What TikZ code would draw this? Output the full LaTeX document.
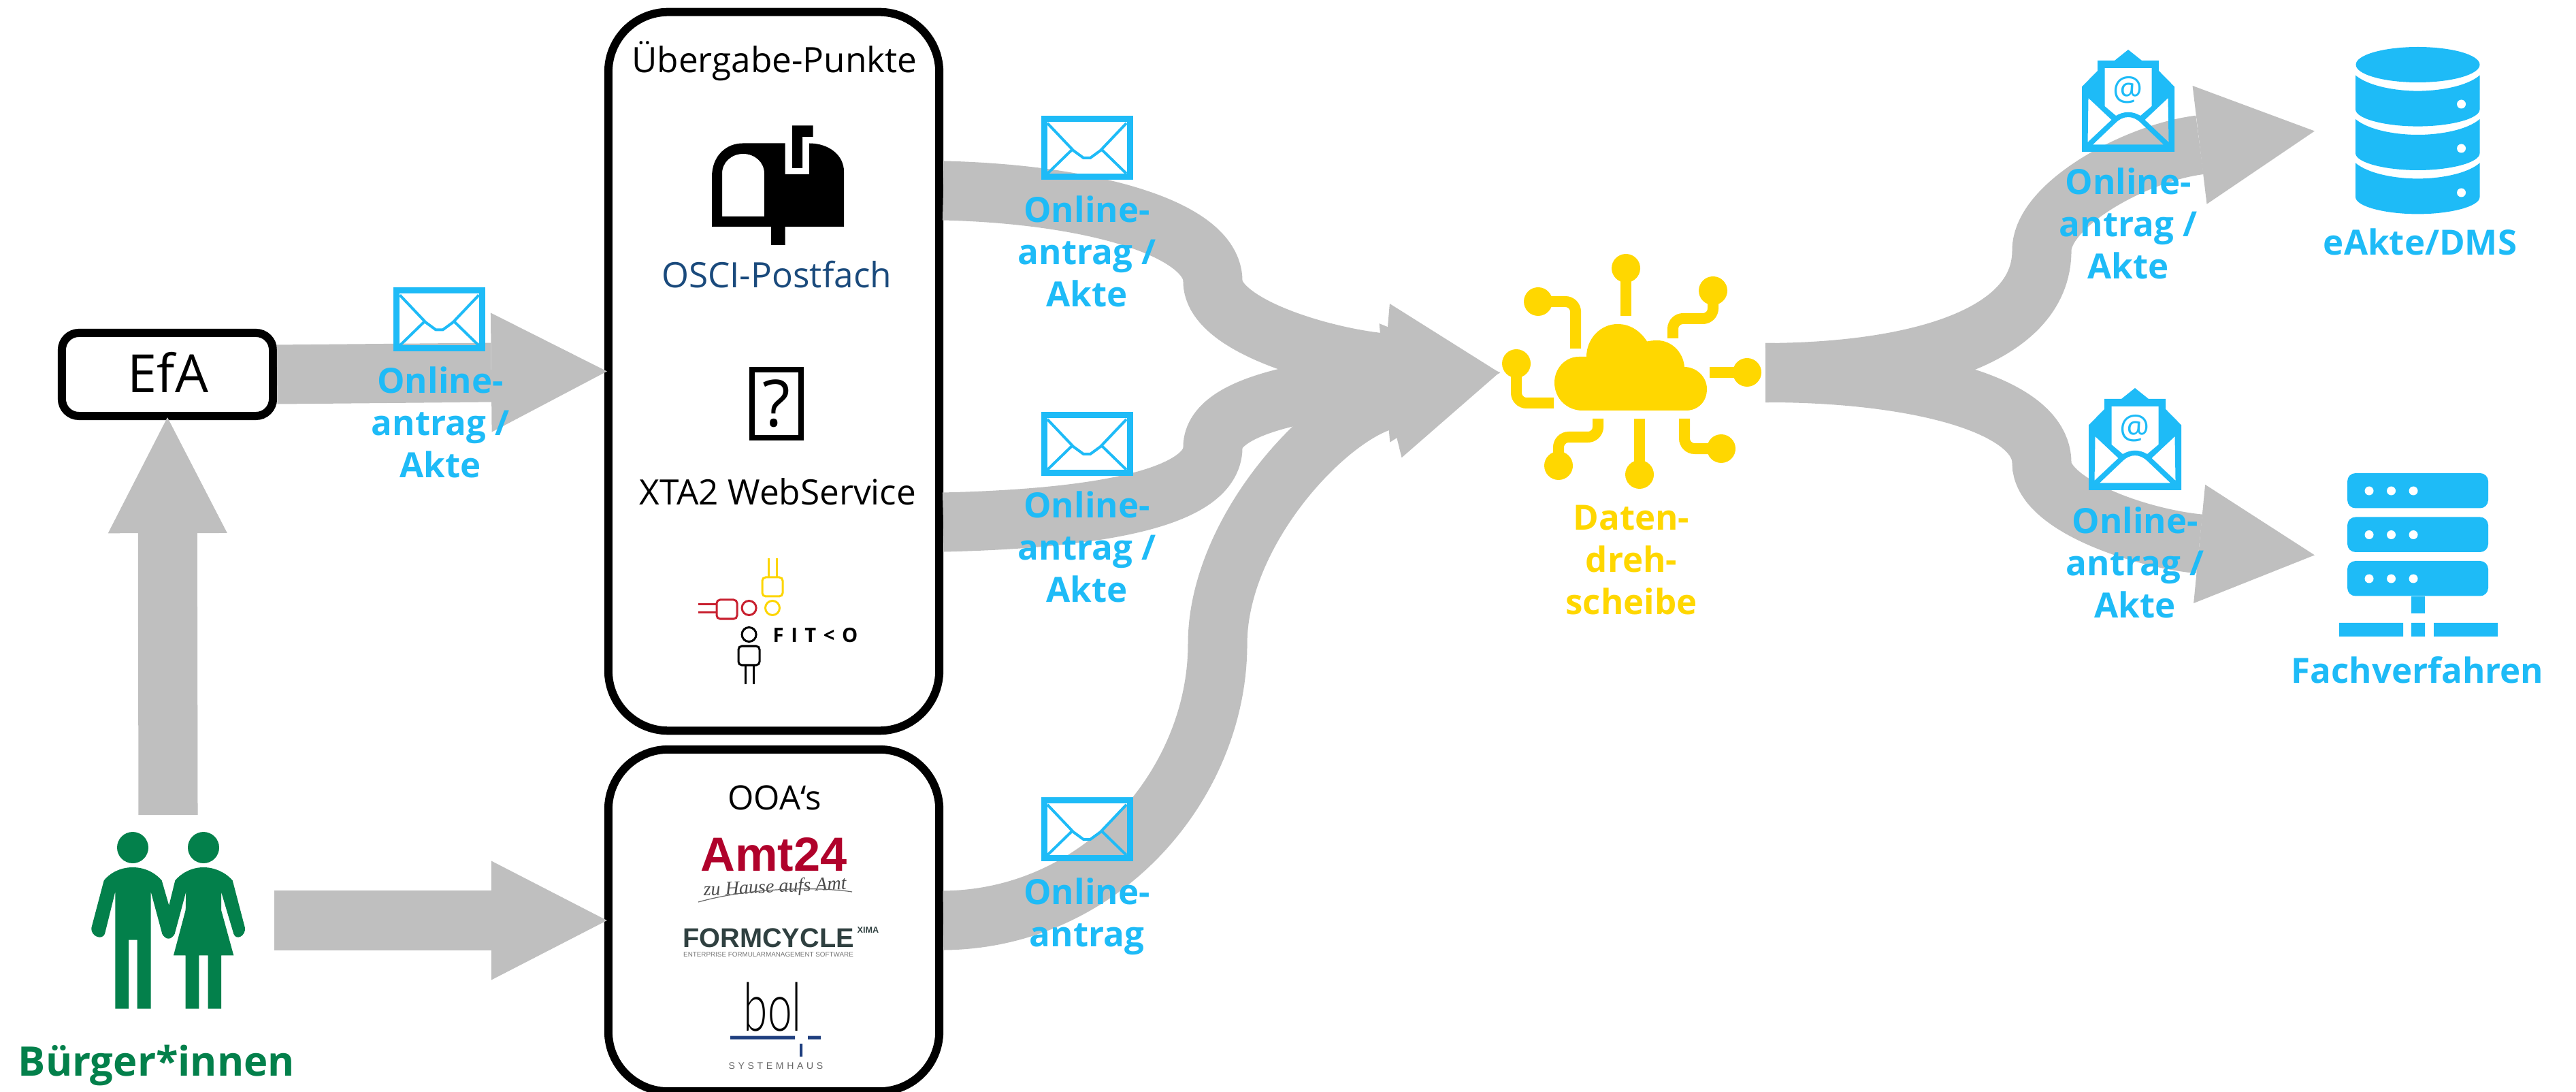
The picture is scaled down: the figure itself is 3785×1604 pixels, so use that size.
\documentclass[tikz,border=0pt]{standalone}
\usepackage{fontspec}
\usepackage{graphicx}
\usetikzlibrary{arrows.meta}
\setmainfont{Open Sans}
\newfontfamily\arialfont{Liberation Sans}
\newfontfamily\timesfont{Liberation Serif}
\newfontfamily\bolfont{Lato Light}
\definecolor{arrowgray}{HTML}{BFBFBF}
\definecolor{mailblue}{HTML}{1EBBF7}
\definecolor{hubyellow}{HTML}{FFD700}
\definecolor{citizengreen}{HTML}{03804B}
\definecolor{osciblue}{HTML}{1A4A7C}
\definecolor{amtred}{HTML}{B0022B}
\definecolor{formgray}{HTML}{2F4040}
\definecolor{bolblue}{HTML}{1F3F7F}
\definecolor{fitred}{HTML}{C8202F}
\definecolor{fityellow}{HTML}{FDD500}
\tikzset{
	fatarrow/.style={draw=arrowgray, line width=.87cm, shorten >=-.04cm, -{Triangle[length=1.7cm,width=1.75cm,line width=0pt]}},
	roundbox/.style={draw=black, line width=.12cm, rounded corners=.88cm, inner sep=0pt, minimum width=4.86cm},
	port/.style={inner sep=0pt, outer sep=0pt, minimum width=3.1cm, minimum height=1cm},
	plain/.style={font=\fontsize{14.6}{18}\selectfont, anchor=base, inner sep=0pt},
	maillabel/.style={font=\fontsize{14.5}{17.6}\selectfont\bfseries, text=mailblue, align=center, inner sep=0pt},
	mailclosed/.pic={
		\draw[mailblue, line width=.09cm] (-63,-42.5) rectangle (63,42.5);
		\draw[mailblue, line width=.04cm, line join=round] (-58,-36) -- (-20,4) -- (-5,15) -- (5,15) -- (20,4) -- (58,-36);
		\draw[mailblue, line width=.04cm] (-58,38) -- (-22,3) (58,38) -- (22,3);
	},
	mailopen/.pic={
		\fill[mailblue, even odd rule] (0,-150) -- (20,-134) -- (45,-134) -- (45,-119) -- (68,-95.6) -- (68,0)
		-- (-68,0) -- (-68,-95.6) -- (-45,-119) -- (-45,-134) -- (-20,-134) -- cycle
		(-34.5,-123) -- (34.5,-123) -- (34.5,-67) -- (18,-53) .. controls (6,-60) and (-6,-60) .. (-18,-53) -- (-34.5,-67) -- cycle
		(-58.5,-79) -- (-24.5,-47) -- (-59.5,-14) -- cycle
		(58.5,-79) -- (24.5,-47) -- (59.5,-14) -- cycle
		(-52,-10.6) -- (-19,-42) .. controls (-7,-54) and (7,-54) .. (19,-42) -- (52,-10.6) -- cycle;
		\node[text=mailblue, inner sep=0pt, font=\fontsize{14}{14}\selectfont] (sign) at (0,-91) {@};
	}
}
\begin{document}
\begin{tikzpicture}[x=.01cm, y=-.01cm]
	\useasboundingbox (0,0) rectangle (3785,1604);
	%boxes
	\node[roundbox, minimum height=10.55cm] (uebergabe) at (1137,545.5) {};
	\node[roundbox, minimum height=5.02cm] (ooa) at (1137,1352) {};
	\node[roundbox, rounded corners=.25cm, minimum width=3.1cm, minimum height=1.22cm] (efa) at (246,550) {};
	\node[port, minimum width=3.94cm] (hub) at (2397,547.5) {};
	\node[port] (dms) at (3552,193) {};
	\node[port] (verfahren) at (3552,815) {};
	\coordinate (citizensUp) at (247,1197);
	\coordinate (citizensOut) at (403,1352);
	\coordinate (postfachOut) at (1386,280);
	\coordinate (xtaOut) at (1386,767);
	%arrows
	\draw[fatarrow] (citizensUp) -- (efa.south);
	\draw[fatarrow] (citizensOut) -- (ooa.west);
	\draw[fatarrow] (efa.east) -- (uebergabe.west);
	\draw[fatarrow] (postfachOut) .. controls (1600,285) and (1782,335) .. (1782,413)
	.. controls (1782,479) and (1950,526) .. (hub.west);
	\draw[fatarrow] (xtaOut) .. controls (1600,762) and (1782,735) .. (1782,657)
	.. controls (1782,590) and (1950,570) .. (hub.west);
	\draw[fatarrow] (ooa.east) .. controls (1620,1350) and (1789,1150) .. (1789,946)
	.. controls (1789,780) and (1950,609) .. (hub.west);
	\draw[fatarrow] (hub.east) .. controls (2800,547) and (3000,500) .. (3000,368)
	.. controls (3000,300) and (3140,224) .. (dms.west);
	\draw[fatarrow] (hub.east) .. controls (2800,547) and (3000,590) .. (3000,680)
	.. controls (3000,740) and (3140,790) .. (verfahren.west);
	%envelopes
	\pic (mailEfa) at (645.5,469.5) {mailclosed};
	\pic (mailPostfach) at (1597,217) {mailclosed};
	\pic (mailXta) at (1597,652) {mailclosed};
	\pic (mailOoa) at (1597,1218) {mailclosed};
	\pic (mailDms) at (3127,223) {mailopen};
	\pic (mailVerfahren) at (3137,720) {mailopen};
	%labels
	\node[maillabel] (labelEfa) at (647,620.5) {Online-\\antrag /\\Akte};
	\node[maillabel] (labelPostfach) at (1597,369.5) {Online-\\antrag /\\Akte};
	\node[maillabel] (labelXta) at (1597,803) {Online-\\antrag /\\Akte};
	\node[maillabel] (labelOoa) at (1597,1346) {Online-\\antrag};
	\node[maillabel] (labelDms) at (3127,328.5) {Online-\\antrag /\\Akte};
	\node[maillabel] (labelVerfahren) at (3137,826.6) {Online-\\antrag /\\Akte};
	\node[maillabel, text=hubyellow] (labelHub) at (2397,822.5) {Daten-\\dreh-\\scheibe};
	\node[maillabel, anchor=base] (labelEakte) at (3556,375) {eAkte/DMS};
	\node[maillabel, anchor=base] (labelFach) at (3552,1003) {Fachverfahren};
	\node[plain, font=\fontsize{17}{20}\selectfont\bfseries, text=citizengreen] (labelBuerger) at (230,1580) {Bürger*innen};
	\node[plain, font=\fontsize{22}{24}\selectfont] (labelEfaBox) at (247,577) {EfA};
	%uebergabe box
	\node[plain] (labelUebergabe) at (1138,107) {Übergabe-Punkte};
	\fill[even odd rule] (1046,333) -- (1046,260) .. controls (1046,228) and (1068,210.5) .. (1091,210.5)
	-- (1153.5,210.5) -- (1153.5,256) -- (1189,256) -- (1189,210.5) .. controls (1218,210.5) and (1240,228) .. (1240,252)
	-- (1240,333) -- (1153.5,333) -- (1153.5,360) -- (1133,360) -- (1133,333) -- cycle
	(1061,318) -- (1061,255) .. controls (1061,238) and (1075,226) .. (1092,226) .. controls (1109,226) and (1123,238) .. (1123,255)
	-- (1123,318) -- cycle;
	\fill (1164,184.5) -- (1194.5,184.5) -- (1194.5,201) -- (1179,201) -- (1179,247) -- (1164,247) -- cycle;
	\node[plain, text=osciblue] (labelOsci) at (1141,423) {OSCI-Postfach};
	\node[draw, line width=.085cm, minimum width=.72cm, minimum height=1cm, inner sep=0pt, font=\fontsize{27}{27}\selectfont] (xtaIcon) at (1141,593) {?};
	\node[plain] (labelXtaText) at (1143,742) {XTA2 WebService};
	%fitko
	\begin{scope}[line width=.03cm]
		\draw[fitred] (1026,888) -- (1053,888) (1026,900) -- (1053,900);
		\draw[fitred, rounded corners=.05cm] (1053,881) rectangle (1083,909);
		\draw[fitred] (1100.6,893) circle (10.5);
		\draw[fityellow] (1129.4,820) -- (1129.4,848) (1141.6,820) -- (1141.6,848);
		\draw[fityellow, rounded corners=.05cm] (1120,848) rectangle (1150,876);
		\draw[fityellow] (1135,893) circle (10.5);
		\draw (1100.6,932) circle (10.5);
		\draw[rounded corners=.05cm] (1085,949) rectangle (1116,977);
		\draw (1095,977) -- (1095,1005) (1107,977) -- (1107,1005);
	\end{scope}
	\node[inner sep=0pt, anchor=base west, font=\fontsize{8.3}{10}\selectfont\bfseries\addfontfeature{LetterSpace=36}] (labelFitko) at (1135,943) {FIT<O};
	%ooa box
	\node[plain, font=\fontsize{14}{17}\selectfont] (labelOoaBox) at (1138,1189) {OOA‘s};
	\node[plain, font=\fontsize{20}{24}\selectfont\arialfont\bfseries, text=amtred] (labelAmt) at (1137,1279) {Amt24};
	\node[plain, rotate=2.5, font=\fontsize{8}{9}\selectfont\timesfont\itshape, text=black!70] (labelAmtSub) at (1139,1311) {zu Hause aufs Amt};
	\draw[black!60, line width=.012cm] (1026,1325) .. controls (1100,1304) and (1200,1302) .. (1252,1310);
	\node[plain, font=\fontsize{11.3}{13}\selectfont\arialfont\bfseries, text=formgray] (labelForm) at (1129,1391) {FORMCYCLE};
	\node[plain, anchor=base west, font=\fontsize{3.6}{4}\selectfont\arialfont\bfseries, text=formgray] (labelXima) at (1259,1370) {XIMA};
	\node[plain, font=\fontsize{2.8}{4}\selectfont\arialfont, text=black!55] (labelEnterprise) at (1129,1405) {ENTERPRISE FORMULARMANAGEMENT SOFTWARE};
	\node[plain, font=\fontsize{28}{30}\selectfont\bolfont] (labelBol) at (1135.5,1514) {\scalebox{.65}[1]{bol}};
	\fill[bolblue] (1073,1521.5) rectangle (1168,1526.5) (1187,1521.5) rectangle (1206,1526.5) (1175,1533) rectangle (1179,1552);
	\node[plain, font=\fontsize{4}{5}\selectfont\arialfont\addfontfeature{LetterSpace=33}, text=black!60] (labelSystem) at (1140,1570) {SYSTEMHAUS};
	%hub
	\fill[hubyellow] (2325,603) -- (2477,603) .. controls (2495,603) and (2508,590) .. (2508,571.5)
	.. controls (2508,553) and (2492,539) .. (2475,539) .. controls (2473,516) and (2455,500) .. (2435,500)
	.. controls (2430,500) and (2425,500.5) .. (2420,501.5) .. controls (2410,486) and (2395,476) .. (2377,476)
	.. controls (2351,476) and (2331,498) .. (2331,524) -- (2320,524) .. controls (2300,524) and (2284,541) .. (2284,562)
	.. controls (2284,586) and (2303,603) .. (2325,603) -- cycle;
	\begin{scope}[hubyellow, line width=.16cm, rounded corners=.15cm]
		\draw (2389,394) -- (2389,464);
		\draw (2517,427) -- (2517,468) -- (2458,468) -- (2458,497);
		\draw (2260,443) -- (2315,443) -- (2315,512);
		\draw (2228,534) -- (2228,592) -- (2283,592);
		\draw (2567,547) -- (2512,547);
		\draw (2290,684) -- (2290,642) -- (2348,642) -- (2348,615);
		\draw (2409,697) -- (2409,615);
		\draw (2529,659) -- (2475,659) -- (2475,615);
	\end{scope}
	\foreach \x/\y in {2389/394,2517/427,2260/443,2228/534,2567/547,2290/684,2409/697,2529/659}
	\fill[hubyellow] (\x,\y) circle (21);
	%database
	\fill[mailblue] (3552.5,95) ellipse (91 and 26);
	\foreach \y/\dot in {110.6/153,175/218,239.4/283}{
		\fill[mailblue] (3461,\y) .. controls (3480,\y+16) and (3520,\y+23) .. (3552.5,\y+23)
		.. controls (3585,\y+23) and (3625,\y+16) .. (3643.5,\y) -- (3643.5,\y+50)
		.. controls (3643.5,\y+64) and (3600,\y+75) .. (3552.5,\y+75)
		.. controls (3505,\y+75) and (3461,\y+64) .. (3461,\y+50) -- cycle;
		\fill[white] (3616.5,\dot) circle (6.5);
	}
	%server
	\foreach \y in {695,759.5,824}{
		\fill[mailblue, rounded corners=.12cm] (3449,\y) rectangle (3656,\y+51.5);
		\foreach \x in {3481,3513.5,3546}
		\fill[white] (\x,\y+26) circle (6.5);
	}
	\fill[mailblue] (3542.5,876) rectangle (3562.5,901);
	\fill[mailblue] (3437,915) rectangle (3531,935) (3543,915) rectangle (3563,935) (3576,915) rectangle (3670,935);
	%people
	\fill[citizengreen] (195,1245) circle (23);
	\fill[citizengreen] (299,1245) circle (23);
	\fill[citizengreen] (195,1274) .. controls (215,1274) and (230,1284) .. (237.7,1293.3) -- (248.3,1330) -- (257.3,1293.3)
	.. controls (265,1284) and (280,1274) .. (299,1274) .. controls (318,1274) and (334,1284) .. (341.7,1293.3)
	-- (360,1363) .. controls (361,1375) and (347,1382) .. (343.3,1371.7) -- (325,1310) -- (325,1336.7) -- (343.3,1403.3)
	-- (325,1403.3) -- (325,1481.7) -- (305.7,1481.7) -- (305.7,1403.3) -- (292.3,1403.3) -- (292.3,1481.7) -- (272.7,1481.7)
	-- (272.7,1403.3) -- (255,1403.3) -- (272.7,1336.7) -- (273.3,1310) -- (256.7,1371.7) .. controls (252,1381) and (243,1381) .. (238.3,1371.7)
	-- (221.7,1310) -- (221.7,1481.7) -- (201.7,1481.7) -- (201.7,1380.7) -- (189,1380.7) -- (189,1481.7) -- (169.3,1481.7)
	-- (169.3,1310) -- (154,1371.7) .. controls (150,1382) and (133,1375) .. (134.3,1363) -- (152.7,1293.3)
	.. controls (160,1284) and (175,1274) .. (195,1274) -- cycle;
\end{tikzpicture}
\end{document}
